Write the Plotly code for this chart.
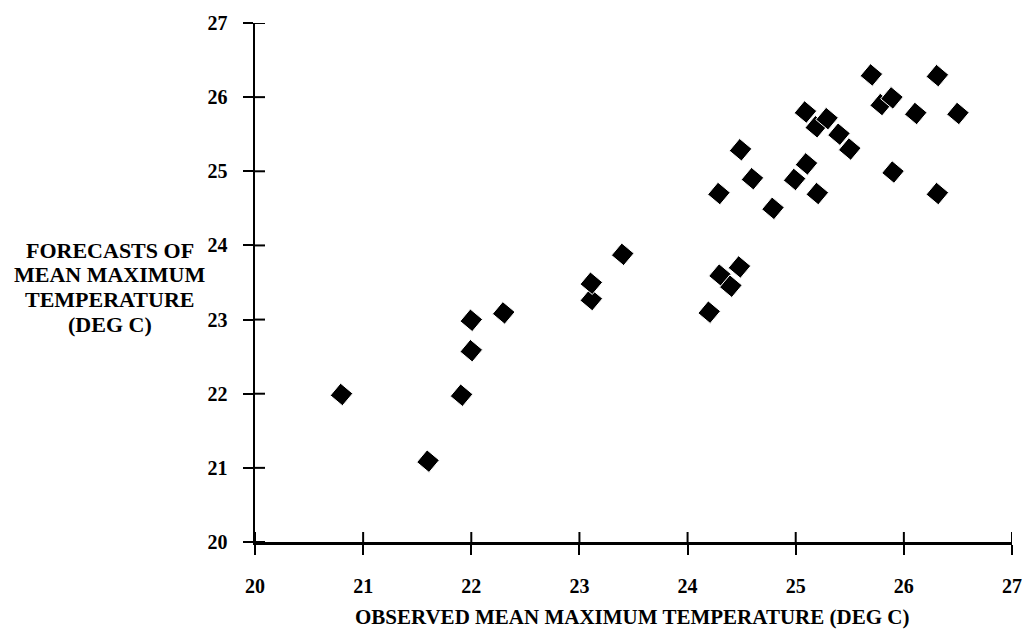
import plotly.graph_objects as go

# Data
observed = [20.80, 21.60, 21.91, 22.00, 22.00, 22.30, 23.11, 23.11, 23.40, 24.20,
            24.30, 24.40, 24.48, 24.29, 24.49, 24.60, 24.79, 24.99, 25.10, 25.20,
            25.09, 25.19, 25.29, 25.40, 25.50, 25.70, 25.79, 25.89, 25.90, 26.11,
            26.31, 26.31, 26.50]
forecast = [21.99, 21.09, 21.98, 22.58, 22.99, 23.09, 23.27, 23.49, 23.88, 23.10,
            23.60, 23.45, 23.71, 24.70, 25.29, 24.90, 24.50, 24.89, 25.10, 24.70,
            25.80, 25.60, 25.71, 25.50, 25.30, 26.30, 25.90, 25.99, 24.99, 25.78,
            26.29, 24.70, 25.78]
x_ticks = [20, 21, 22, 23, 24, 25, 26, 27]
y_ticks = [20, 21, 22, 23, 24, 25, 26, 27]
x_title = "OBSERVED MEAN MAXIMUM TEMPERATURE (DEG C)"
y_title_lines = ["FORECASTS OF", "MEAN MAXIMUM", "TEMPERATURE", "(DEG C)"]

W, H = 1034, 632
L, R, T, B = 255, 14, 14, 90
pw, ph = W - L - R, H - T - B


def px(xp):
    return (xp - L) / pw


def py(yp):
    return (H - B - yp) / ph


FONT = "Liberation Serif"

fig = go.Figure()
fig.add_trace(go.Scatter(
    x=observed, y=forecast, mode="markers",
    marker=dict(symbol="square", size=16, angle=40, color="black",
                line=dict(color="white", width=1)),
    showlegend=False, hoverinfo="x+y",
))

axis_common = dict(
    showline=True, linecolor="black", linewidth=2.5,
    showgrid=False, zeroline=False,
    ticks="outside", ticklen=10, tickwidth=2, tickcolor="black",
    tickfont=dict(family=FONT, size=20, color="black", weight="bold"),
    mirror=False, fixedrange=True,
)

fig.update_xaxes(range=[20, 27], tickvals=x_ticks, ticktext=[str(v) for v in x_ticks],
                 ticklabelstandoff=14, **axis_common)
fig.update_yaxes(range=[20, 27], tickvals=y_ticks, ticktext=[str(v) for v in y_ticks],
                 ticklabelstandoff=11, **axis_common)

shapes = []
for t in x_ticks:
    shapes.append(dict(type="line", xref="x", yref="y", x0=t, x1=t,
                       ysizemode="pixel", yanchor=20, y0=0, y1=10,
                       line=dict(color="black", width=2)))
for t in y_ticks:
    shapes.append(dict(type="line", xref="x", yref="y", y0=t, y1=t,
                       xsizemode="pixel", xanchor=20, x0=0, x1=10,
                       line=dict(color="black", width=2)))
fig.update_layout(shapes=shapes)

annotations = [dict(
    text="<b>" + x_title + "</b>", xref="paper", yref="paper",
    x=px(354), y=py(618), xanchor="left", yanchor="middle", showarrow=False,
    font=dict(family=FONT, size=21, color="black"),
)]
for i, line in enumerate(y_title_lines):
    annotations.append(dict(
        text="<b>" + line + "</b>", xref="paper", yref="paper",
        x=px(108), y=py(245 + 25.2 * i), xanchor="center", yanchor="middle",
        showarrow=False, font=dict(family=FONT, size=22, color="black"),
    ))
fig.update_layout(annotations=annotations)

fig.update_layout(
    width=W, height=H,
    margin=dict(l=L, r=R, t=T, b=B),
    paper_bgcolor="white", plot_bgcolor="white",
)

fig.write_html(
    "out.html",
    config={"displayModeBar": False, "staticPlot": True},
    post_script="document.body.style.margin='0';document.body.style.overflow='hidden';",
)
